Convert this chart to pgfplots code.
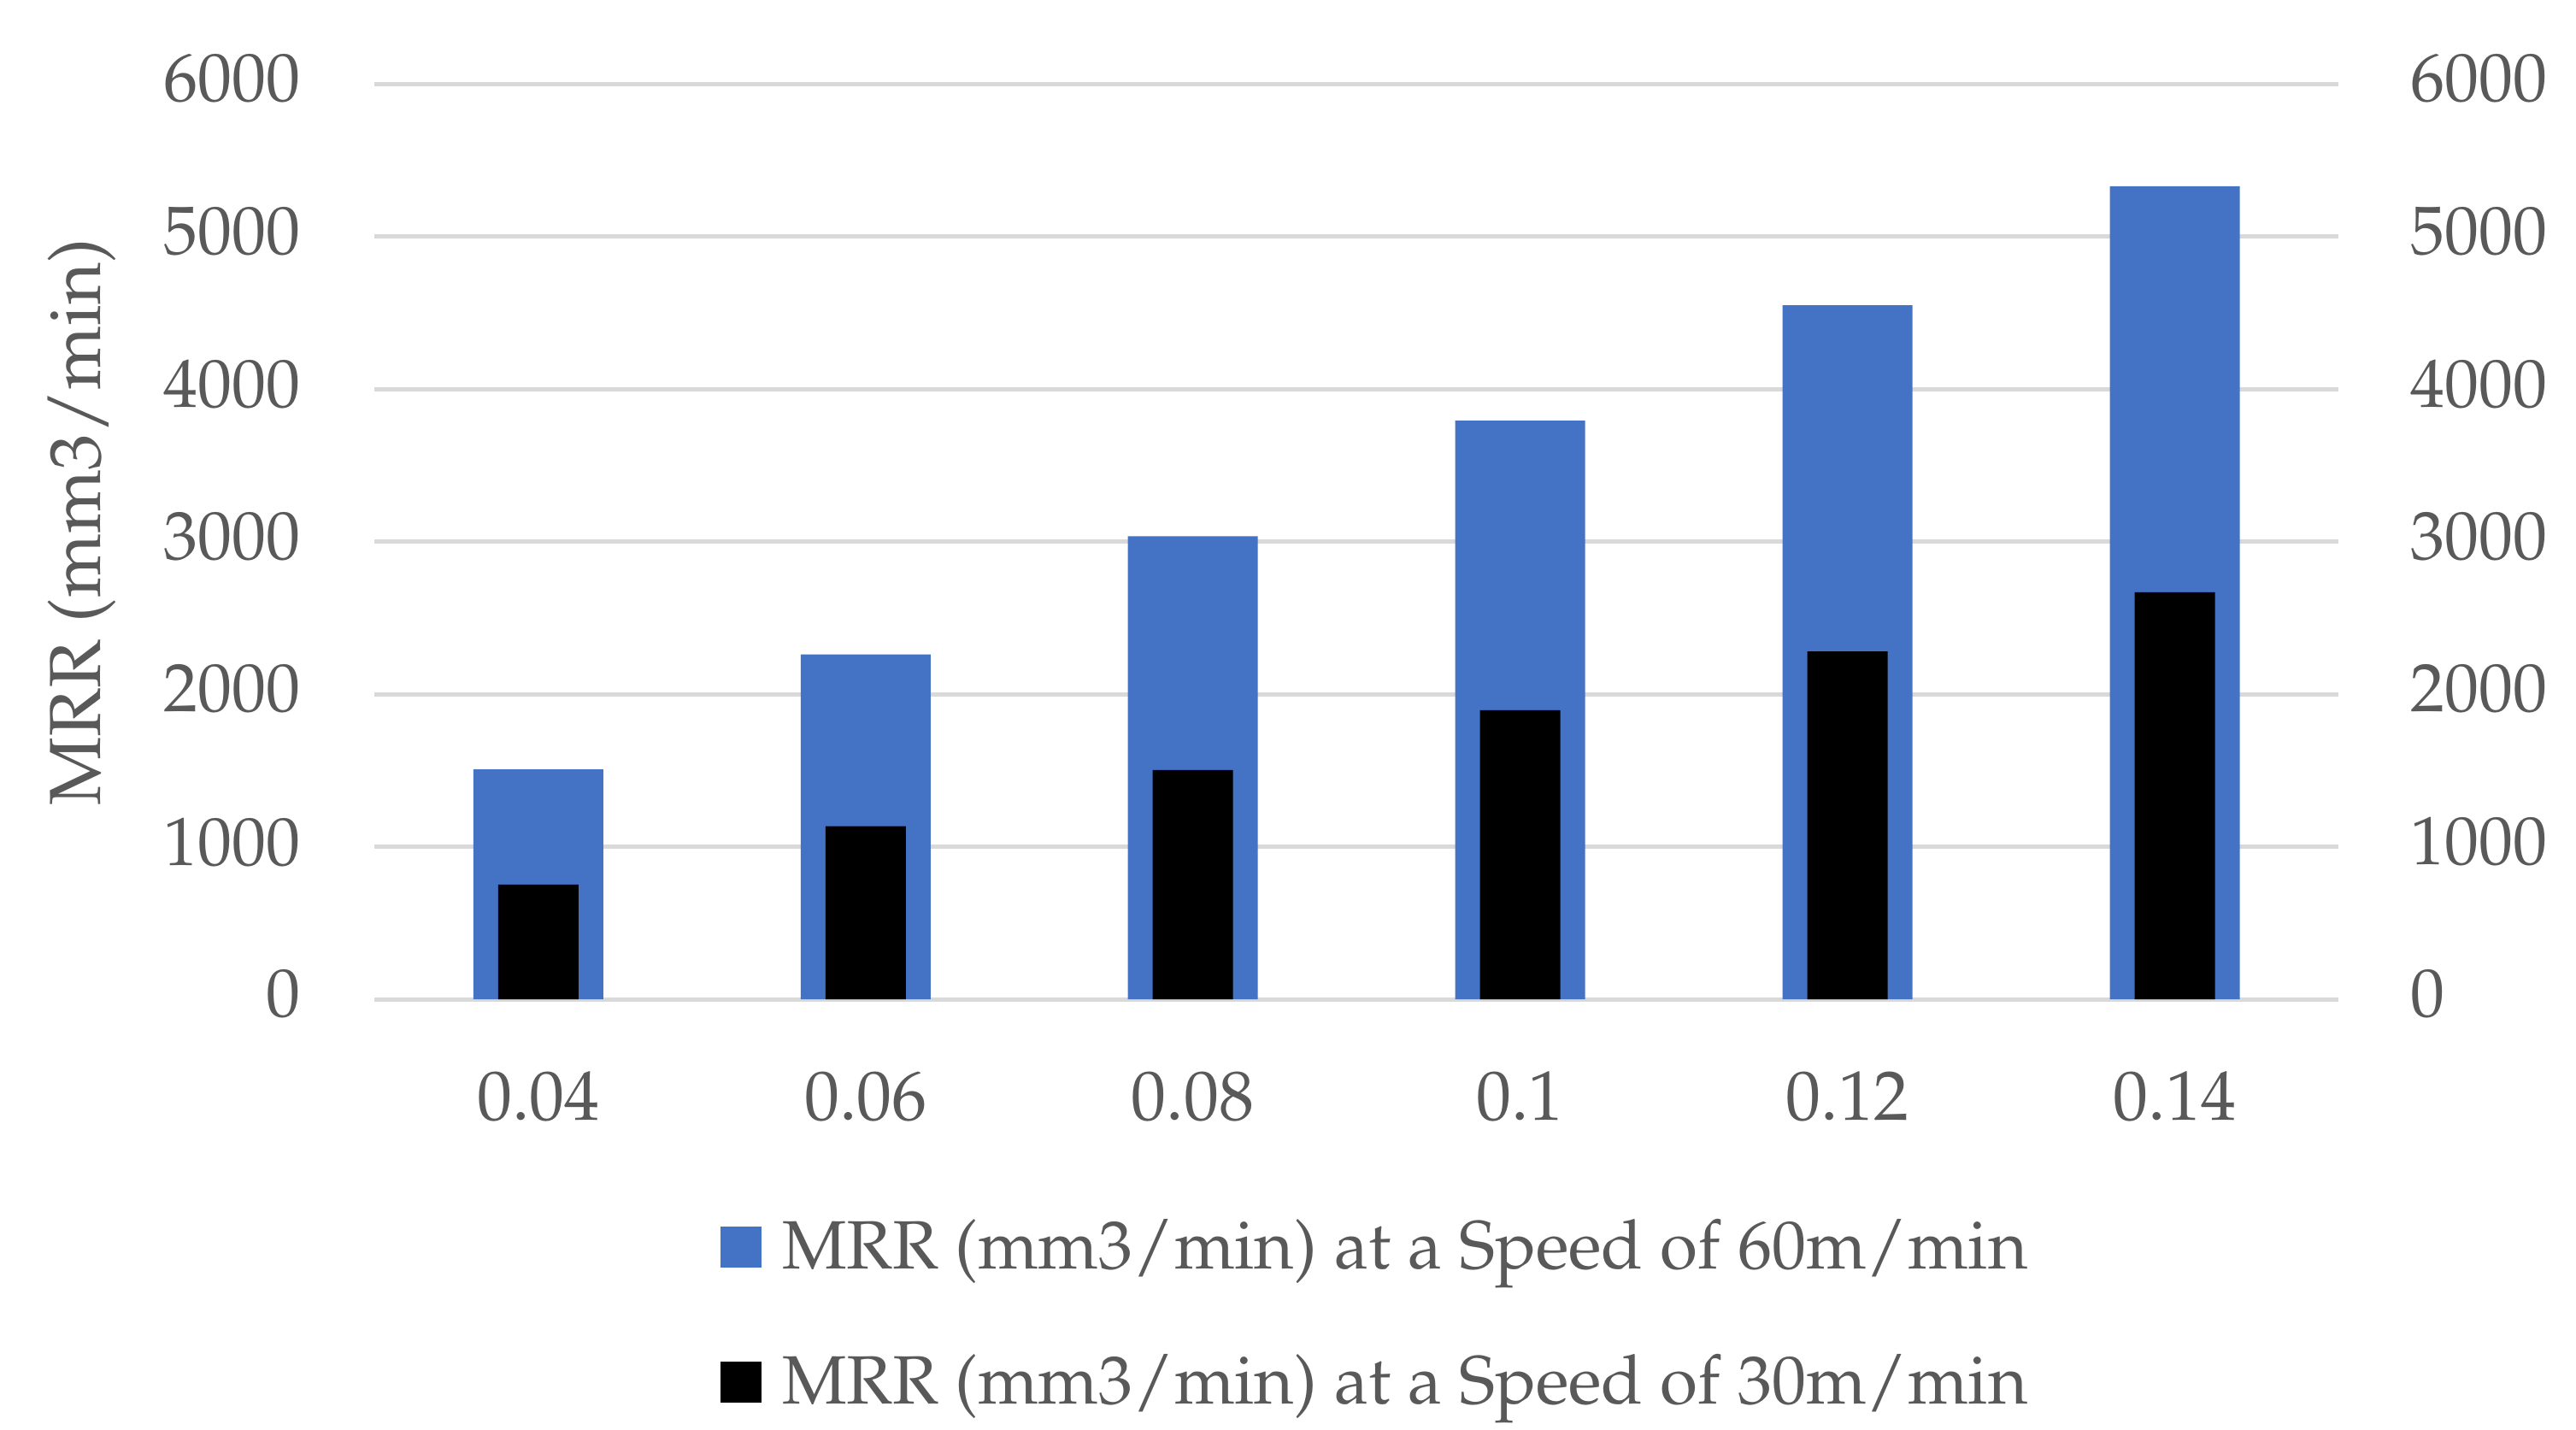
\documentclass[border=0pt]{standalone}
\usepackage[T1]{fontenc}
\usepackage{mathpazo}
\usepackage{pgfplots}
\pgfplotsset{compat=1.18}
\definecolor{barblue}{HTML}{4472C4}
\definecolor{txtgray}{HTML}{595959}
\definecolor{gridgray}{HTML}{D9D9D9}
\begin{document}
\begin{tikzpicture}
\useasboundingbox (-109.6pt,-125.9pt) rectangle (643.9pt,292.3pt);
\pgfplotsset{
  mrr/.style={
    scale only axis, width=574.4pt, height=267.75pt,
    xmin=-0.5, xmax=5.5, ymin=0, ymax=6000,
    ytick={0,1000,...,6000},
    tick style={draw=none},
    ticklabel style={font=\fontsize{20.5}{24}\selectfont, text=txtgray, inner sep=0pt},
    yticklabel style={font=\fontsize{20}{24}\selectfont},
    scaled y ticks=false,
    /pgf/number format/fixed,
    /pgf/number format/1000 sep={},
  }
}
\begin{axis}[mrr,
  axis line style={draw=none},
  ymajorgrids, grid style={gridgray, line width=1.25pt},
  xtick=data, xticklabels={0.04,0.06,0.08,0.1,0.12,0.14},
  xticklabel style={anchor=north, yshift=-21pt},
  yticklabel style={anchor=east, xshift=-21.5pt, yshift=1.5pt},
  ylabel={MRR (mm3/min)},
  ylabel style={font=\fontsize{21.2}{25}\selectfont, text=txtgray,
    at={(axis description cs:-0.1395,0.5213)}, anchor=base},
  legend style={draw=none, fill=none, at={(axis description cs:0.1758,-0.24)},
    anchor=north west, inner sep=0pt,
    font=\fontsize{20}{24}\selectfont, text=txtgray, row sep=23.5pt,
    nodes={inner sep=0pt}, legend cell align=left,
    /tikz/column 2/.style={column sep=0pt}},
  legend image code/.code={\fill[#1] (0pt,-6pt) rectangle (12pt,6pt); \path (18pt,0pt);},
]
\addplot[ybar, bar width=38pt, bar shift=0pt, fill=barblue, draw=none]
  coordinates {(0,1507) (1,2261) (2,3036) (3,3793) (4,4549) (5,5330)};
\addlegendentry{MRR (mm3/min) at a Speed of 60m/min}
\addplot[ybar, bar width=23.5pt, bar shift=0pt, fill=black, draw=none]
  coordinates {(0,752) (1,1135) (2,1503) (3,1895) (4,2280) (5,2668)};
\addlegendentry{MRR (mm3/min) at a Speed of 30m/min}
\end{axis}
\begin{axis}[mrr,
  axis x line=none, axis y line*=right, y axis line style={draw=none},
  yticklabel style={anchor=west, xshift=21pt, yshift=1.5pt},
]
\addplot[draw=none] coordinates {(0,0)};
\end{axis}
\end{tikzpicture}
\end{document}
